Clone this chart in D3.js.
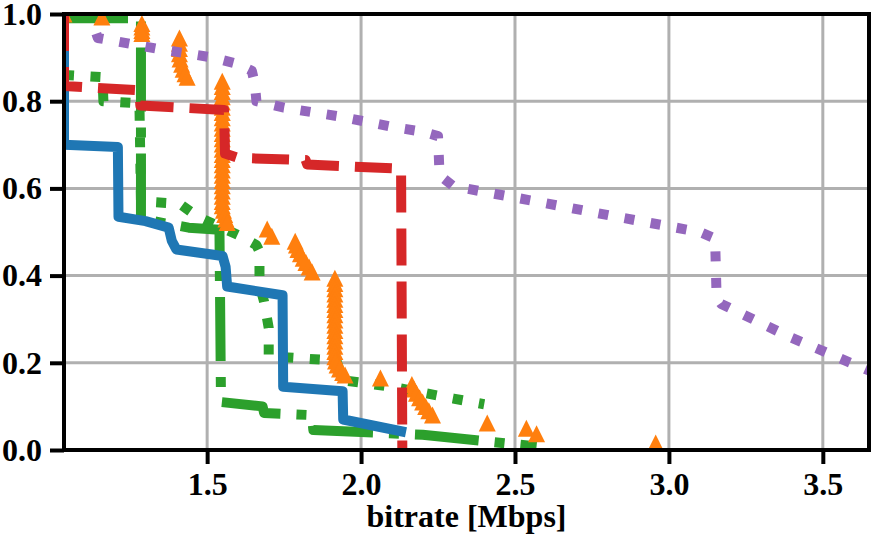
<!DOCTYPE html>
<html>
<head>
<meta charset="utf-8">
<script src="https://cdn.jsdelivr.net/npm/d3@7"></script>
<style>
    body { margin: 0; background: #fff; }
    text { font-family: "Liberation Serif", "Times New Roman", serif; font-weight: bold; }
</style>
</head>
<body>
<svg id="chart" width="884" height="540"></svg>
<script>

var xTicks = [1.5, 2.0, 2.5, 3.0, 3.5],
    yTicks = [0.0, 0.2, 0.4, 0.6, 0.8, 1.0];

var xLabel = 'bitrate [Mbps]';

// [bitrate, fraction] pairs
var blueSolid = [
    [1.035, 0.91], [1.035, 0.70], [1.21, 0.695], [1.212, 0.535], [1.30, 0.525],
    [1.375, 0.51], [1.385, 0.48], [1.40, 0.46], [1.55, 0.445], [1.56, 0.42],
    [1.565, 0.375], [1.745, 0.355], [1.747, 0.145], [1.94, 0.135], [1.942, 0.07],
    [2.13, 0.043]
];

var greenDotted = [
    [1.035, 0.86], [1.16, 0.855], [1.163, 0.80], [1.28, 0.795], [1.285, 0.57],
    [1.41, 0.565], [1.47, 0.535], [1.61, 0.49], [1.66, 0.47], [1.67, 0.455],
    [1.67, 0.38], [1.685, 0.34], [1.70, 0.28], [1.70, 0.215], [1.92, 0.205],
    [1.94, 0.16], [2.10, 0.145], [2.30, 0.118], [2.40, 0.105]
];

var greenDashDot = [
    [1.035, 0.99], [1.285, 0.99], [1.285, 0.53], [1.44, 0.51], [1.54, 0.505],
    [1.545, 0.11], [1.68, 0.10], [1.685, 0.085], [1.84, 0.08], [1.845, 0.046],
    [2.20, 0.035], [2.57, 0.008]
];

var redDashed = [
    [1.035, 1.0], [1.035, 0.835], [1.28, 0.825], [1.283, 0.79], [1.555, 0.78],
    [1.558, 0.68], [1.60, 0.67], [1.82, 0.665], [1.825, 0.655], [2.13, 0.645],
    [2.134, 0.0]
];

var purpleDotted = [
    [1.14, 0.955], [1.145, 0.945], [1.34, 0.92], [1.52, 0.90], [1.60, 0.885],
    [1.645, 0.87], [1.655, 0.84], [1.66, 0.80], [1.75, 0.785], [1.93, 0.765],
    [2.11, 0.74], [2.20, 0.73], [2.25, 0.72], [2.255, 0.63], [2.30, 0.605],
    [2.57, 0.57], [2.83, 0.535], [3.10, 0.50], [3.15, 0.485], [3.155, 0.35],
    [3.17, 0.335], [3.39, 0.26], [3.64, 0.185], [3.70, 0.17]
];

var orangeMarkers = [
    [1.035, 1.0], [1.158, 0.993],
    [1.288, 0.978], [1.288, 0.97], [1.288, 0.962], [1.288, 0.955],
    [1.41, 0.945], [1.41, 0.933], [1.41, 0.921], [1.41, 0.909], [1.412, 0.897],
    [1.417, 0.885], [1.422, 0.873], [1.428, 0.863], [1.435, 0.855],
    [1.549, 0.846], [1.549, 0.834], [1.549, 0.822], [1.549, 0.81], [1.549, 0.798],
    [1.549, 0.786], [1.549, 0.774], [1.549, 0.762], [1.549, 0.75], [1.549, 0.738],
    [1.549, 0.726], [1.549, 0.714], [1.549, 0.702], [1.549, 0.69], [1.549, 0.678],
    [1.549, 0.666], [1.549, 0.654], [1.549, 0.642], [1.549, 0.63], [1.549, 0.618],
    [1.549, 0.606], [1.549, 0.594], [1.549, 0.582], [1.549, 0.57], [1.549, 0.56],
    [1.553, 0.55], [1.557, 0.54], [1.561, 0.53], [1.565, 0.522],
    [1.695, 0.507], [1.71, 0.49],
    [1.786, 0.479], [1.79, 0.47], [1.795, 0.46], [1.803, 0.45], [1.812, 0.44],
    [1.821, 0.43], [1.831, 0.42], [1.841, 0.408],
    [1.915, 0.394], [1.915, 0.382], [1.915, 0.37], [1.915, 0.358], [1.915, 0.346],
    [1.915, 0.334], [1.915, 0.322], [1.915, 0.31], [1.915, 0.298], [1.915, 0.286],
    [1.915, 0.274], [1.915, 0.262], [1.915, 0.25], [1.915, 0.238], [1.915, 0.226],
    [1.915, 0.214], [1.917, 0.204], [1.922, 0.195], [1.93, 0.186], [1.94, 0.178],
    [1.948, 0.172],
    [2.063, 0.165],
    [2.165, 0.15], [2.172, 0.14], [2.18, 0.13], [2.19, 0.12], [2.20, 0.11],
    [2.21, 0.10], [2.22, 0.09], [2.232, 0.08],
    [2.41, 0.062],
    [2.537, 0.05], [2.57, 0.037],
    [2.957, 0.016]
];


var svg = d3.select('#chart');

var margin = { left: 64, right: 15, top: 14, bottom: 90 },
    width = 884 - margin.left - margin.right,
    height = 540 - margin.top - margin.bottom;

var x = d3.scaleLinear().domain([1.035, 3.65]).range([0, width]),
    y = d3.scaleLinear().domain([0, 1]).range([height, 0]);

var g = svg.append('g')
    .attr('transform', 'translate(' + margin.left + ',' + margin.top + ')');

g.append('clipPath')
    .attr('id', 'plot-clip')
    .append('rect')
    .attr('width', width)
    .attr('height', height);

// Grid
g.append('g')
    .selectAll('line')
    .data(xTicks)
    .enter()
    .append('line')
    .attr('x1', function (d) { return x(d); })
    .attr('x2', function (d) { return x(d); })
    .attr('y1', 0)
    .attr('y2', height)
    .attr('stroke', '#b0b0b0')
    .attr('stroke-width', 3);

g.append('g')
    .selectAll('line')
    .data(yTicks)
    .enter()
    .append('line')
    .attr('y1', function (d) { return y(d); })
    .attr('y2', function (d) { return y(d); })
    .attr('x1', 0)
    .attr('x2', width)
    .attr('stroke', '#b0b0b0')
    .attr('stroke-width', 3);

var plot = g.append('g').attr('clip-path', 'url(#plot-clip)');

var line = d3.line()
    .x(function (d) { return x(d[0]); })
    .y(function (d) { return y(d[1]); });

function drawLine (data, color, dash, cap) {
    plot.append('path')
        .datum(data)
        .attr('d', line)
        .attr('fill', 'none')
        .attr('stroke', color)
        .attr('stroke-width', 10)
        .attr('stroke-linejoin', 'round')
        .attr('stroke-linecap', cap || 'butt')
        .attr('stroke-dasharray', dash);
}

drawLine(greenDotted, '#2ca02c', '10,16.5');
drawLine(greenDashDot, '#2ca02c', '64,16,10,16');
drawLine(blueSolid, '#1f77b4', null, 'square');

plot.append('g')
    .selectAll('path')
    .data(orangeMarkers)
    .enter()
    .append('path')
    .attr('d', 'M0,-8.5L8.5,8.5L-8.5,8.5Z')
    .attr('transform', function (d) {
        return 'translate(' + x(d[0]) + ',' + y(d[1]) + ')';
    })
    .attr('fill', '#ff7f0e');

drawLine(redDashed, '#d62728', '37,16');
drawLine(purpleDotted, '#9467bd', '10,16.5');

// Axes
var xAxis = g.append('g')
    .attr('transform', 'translate(0,' + height + ')')
    .call(d3.axisBottom(x)
        .tickValues(xTicks)
        .tickFormat(d3.format('.1f'))
        .tickSize(14)
        .tickPadding(8));

var yAxis = g.append('g')
    .call(d3.axisLeft(y)
        .tickValues(yTicks)
        .tickFormat(d3.format('.1f'))
        .tickSize(14)
        .tickPadding(8));

[xAxis, yAxis].forEach(function (a) {
    a.select('.domain').remove();
    a.selectAll('.tick line')
        .attr('stroke', '#000')
        .attr('stroke-width', 4);
    a.selectAll('.tick text')
        .attr('fill', '#000')
        .style('font-size', '32px');
});

// Spines
g.append('rect')
    .attr('width', width)
    .attr('height', height)
    .attr('fill', 'none')
    .attr('stroke', '#000')
    .attr('stroke-width', 4);

g.append('text')
    .attr('x', width / 2)
    .attr('y', height + 77)
    .attr('text-anchor', 'middle')
    .style('font-size', '32px')
    .text(xLabel);

</script>
</body>
</html>
